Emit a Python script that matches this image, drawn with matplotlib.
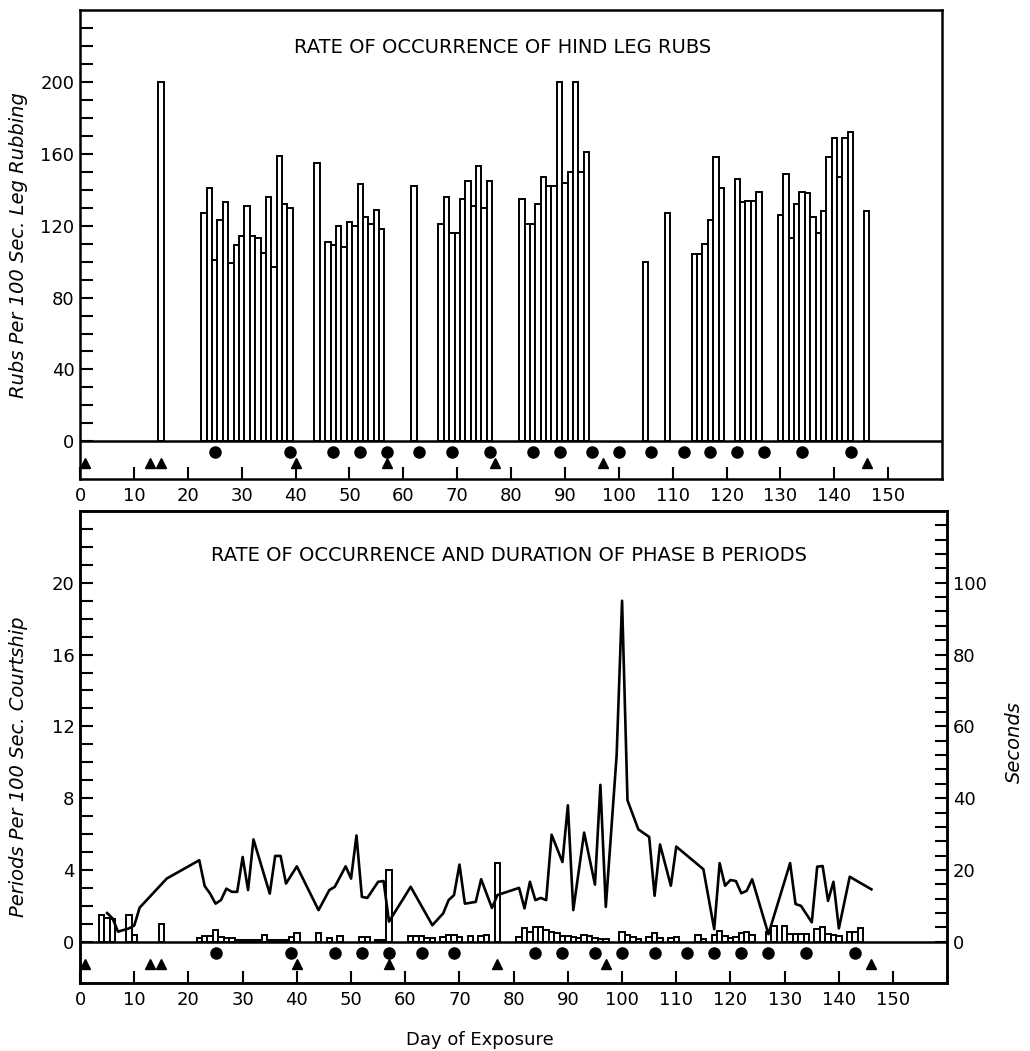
import matplotlib.pyplot as plt
import numpy as np

# --- top panel: hind leg rubs per 100 sec (bars) ---
rub_days = [15] + list(range(23, 40)) + [44] + list(range(46, 57)) + [62] \
    + list(range(67, 77)) + list(range(82, 95)) + [105, 109] \
    + list(range(114, 120)) + list(range(122, 127)) + list(range(130, 144)) + [146]
rub_rate = [200,
            127, 141, 101, 123, 133, 99, 109, 114, 131, 114, 113, 105, 136, 97, 159, 132, 130,
            155,
            111, 109, 120, 108, 122, 120, 143, 125, 121, 129, 118,
            142,
            121, 136, 116, 116, 135, 145, 131, 153, 130, 145,
            135, 121, 121, 132, 147, 142, 142, 200, 144, 150, 200, 150, 161,
            100, 127,
            104, 104, 110, 123, 158, 141,
            146, 133, 134, 134, 139,
            126, 149, 113, 132, 139, 138, 125, 116, 128, 158, 169, 147, 169, 172,
            128]

# --- bottom panel: phase B periods per 100 sec (bars) ---
per_days = [4, 5, 6, 9, 10, 15,
            22, 23, 24, 25, 26, 27, 28, 29, 30, 31, 32, 33, 34, 35, 36, 37, 38, 39, 40,
            44, 46, 48, 52, 53, 55, 56, 57,
            61, 62, 63, 64, 65, 67, 68, 69, 70, 72, 74, 75, 77,
            81, 82, 83, 84, 85, 86, 87, 88, 89, 90, 91, 92, 93, 94, 95, 96, 97,
            100, 101, 102, 103, 105, 106, 107, 109, 110, 114, 115,
            117, 118, 119, 120, 121, 122, 123, 124, 127, 128,
            130, 131, 132, 133, 134, 136, 137, 138, 139, 140, 142, 143, 144]
per_rate = [1.5, 1.3, 1.25, 1.5, 0.35, 1.0,
            0.2, 0.3, 0.3, 0.65, 0.28, 0.2, 0.2, 0.1, 0.1, 0.1, 0.1, 0.1, 0.4, 0.1, 0.1, 0.1, 0.1, 0.28, 0.46,
            0.46, 0.2, 0.3, 0.24, 0.24, 0.1, 0.1, 4.0,
            0.3, 0.3, 0.3, 0.2, 0.2, 0.24, 0.4, 0.37, 0.24, 0.31, 0.31, 0.37, 4.4,
            0.24, 0.74, 0.55, 0.81, 0.8, 0.65, 0.52, 0.46, 0.31, 0.31, 0.24, 0.2, 0.37, 0.31, 0.2, 0.13, 0.13,
            0.55, 0.37, 0.24, 0.13, 0.24, 0.46, 0.2, 0.2, 0.28, 0.37, 0.15,
            0.37, 0.6, 0.33, 0.2, 0.24, 0.46, 0.52, 0.37, 0.52, 0.85,
            0.85, 0.43, 0.43, 0.43, 0.43, 0.7, 0.8, 0.43, 0.37, 0.33, 0.56, 0.56, 0.78]

# --- bottom panel: duration of phase B periods, seconds (line) ---
dur_days = [5, 6, 7, 9, 10, 11, 16, 22, 23, 24, 25, 26, 27, 28, 29, 30, 31, 32,
            35, 36, 37, 38, 40, 44, 46, 47, 49, 50, 51, 52, 53, 55, 56, 57,
            61, 65, 67, 68, 69, 70, 71, 73, 74, 76, 77, 81, 82, 83, 84, 85, 86, 87,
            89, 90, 91, 93, 95, 96, 97, 99, 100, 101, 103, 105, 106, 107, 109, 110,
            115, 117, 118, 119, 120, 121, 122, 123, 124, 127, 131, 132, 133, 135,
            136, 137, 138, 139, 140, 142, 146]
dur_sec = [8.0, 6.5, 2.8, 3.7, 4.5, 9.5, 17.6, 22.7, 15.5, 13.4, 10.6, 11.6, 14.8, 13.9, 13.9, 23.6, 14.4, 28.5,
           13.4, 23.9, 23.9, 16.2, 21.0, 8.8, 14.4, 15.3, 21.0, 17.6, 29.6, 12.5, 12.2, 16.7, 16.9, 5.6,
           15.3, 4.6, 7.9, 11.6, 13.0, 21.5, 10.6, 11.1, 17.4, 9.4, 13.0, 15.0, 9.3, 16.7, 11.6, 12.2, 11.6, 29.8,
           22.2, 38.0, 8.8, 30.4, 15.9, 43.7, 9.7, 52.0, 95.0, 39.4, 31.3, 29.2, 12.8, 27.1, 15.6, 26.5,
           20.2, 3.5, 21.9, 15.6, 17.2, 16.9, 13.5, 14.2, 17.4, 2.1, 21.9, 10.5, 10.0, 5.4,
           20.9, 21.1, 11.4, 16.7, 3.7, 18.1, 14.6]

# symbols in the strip under the baseline
circle_days_top = [25, 39, 47, 52, 57, 63, 69, 76, 84, 89, 95, 100, 106, 112, 117, 122, 127, 134, 143]
circle_days_bot = [25, 39, 47, 52, 57, 63, 69, 84, 89, 95, 100, 106, 112, 117, 122, 127, 134, 143]
triangle_days = [1, 13, 15, 40, 57, 77, 97, 146]

xticks = list(range(0, 151, 10))

fig = plt.figure(figsize=(10.3, 10.51), dpi=100)
lw = 1.8


def style_frame(ax):
    for s in ax.spines.values():
        s.set_linewidth(lw)
    ax.set_xlim(0, 160)
    ax.set_xticks(xticks)
    ax.set_xticklabels([str(t) for t in xticks], fontsize=13)
    ax.tick_params(axis='x', direction='in', length=9, width=1.5, pad=6)
    ax.axhline(0, color='black', lw=lw)


# top panel
ax1 = fig.add_axes([0.0777, 0.5442, 0.837, 0.4462])
ax1.bar(rub_days, rub_rate, width=1.0, facecolor='white', edgecolor='black', linewidth=1.4)
style_frame(ax1)
ax1.set_ylim(-21, 240)
ax1.set_yticks(range(0, 240, 10), minor=True)
ax1.set_yticks(range(0, 201, 40))
ax1.set_yticklabels([str(v) for v in range(0, 201, 40)], fontsize=13)
ax1.tick_params(axis='y', which='both', direction='in', length=9, width=1.5, pad=4)
ax1.plot(circle_days_top, [-6] * len(circle_days_top), 'o', color='black', ms=8)
ax1.plot(triangle_days, [-12] * len(triangle_days), '^', color='black', ms=7.5)
ax1.text(0.49, 0.92, 'RATE OF OCCURRENCE OF HIND LEG RUBS', transform=ax1.transAxes,
         ha='center', va='center', fontsize=14)

# bottom panel
ax2 = fig.add_axes([0.0777, 0.0647, 0.842, 0.4491])
ax2.bar(per_days, per_rate, width=1.0, facecolor='white', edgecolor='black', linewidth=1.4, zorder=2)
style_frame(ax2)
ax2.set_ylim(-2.3, 24)
ax2.set_yticks(range(0, 24), minor=True)
ax2.set_yticks(range(0, 21, 4))
ax2.set_yticklabels([str(v) for v in range(0, 21, 4)], fontsize=13)
ax2.tick_params(axis='y', which='both', direction='in', length=9, width=1.5, pad=4)
ax2.plot(circle_days_bot, [-0.61] * len(circle_days_bot), 'o', color='black', ms=8)
ax2.plot(triangle_days, [-1.22] * len(triangle_days), '^', color='black', ms=7.5)
ax2.text(0.495, 0.905, 'RATE OF OCCURRENCE AND DURATION OF PHASE B PERIODS',
         transform=ax2.transAxes, ha='center', va='center', fontsize=14)

ax3 = ax2.twinx()
ax3.set_ylim(-11.5, 120)
ax3.plot(dur_days, dur_sec, color='black', lw=1.9, zorder=3)
ax3.set_yticks(range(0, 120, 4), minor=True)
ax3.set_yticks(range(0, 101, 20))
ax3.set_yticklabels([str(v) for v in range(0, 101, 20)], fontsize=13)
ax3.tick_params(axis='y', which='both', direction='in', length=9, width=1.5, pad=4)
for s in ax3.spines.values():
    s.set_linewidth(lw)

fig.text(0.0175, 0.767, 'Rubs Per 100 Sec. Leg Rubbing', rotation=90, style='italic',
         ha='center', va='center', fontsize=14)
fig.text(0.0175, 0.27, 'Periods Per 100 Sec. Courtship', rotation=90, style='italic',
         ha='center', va='center', fontsize=14)
fig.text(0.985, 0.294, 'Seconds', rotation=90, style='italic',
         ha='center', va='center', fontsize=14)
fig.text(0.466, 0.0105, 'Day of Exposure', ha='center', va='center', fontsize=13)

fig.savefig('out.png', dpi=100)
